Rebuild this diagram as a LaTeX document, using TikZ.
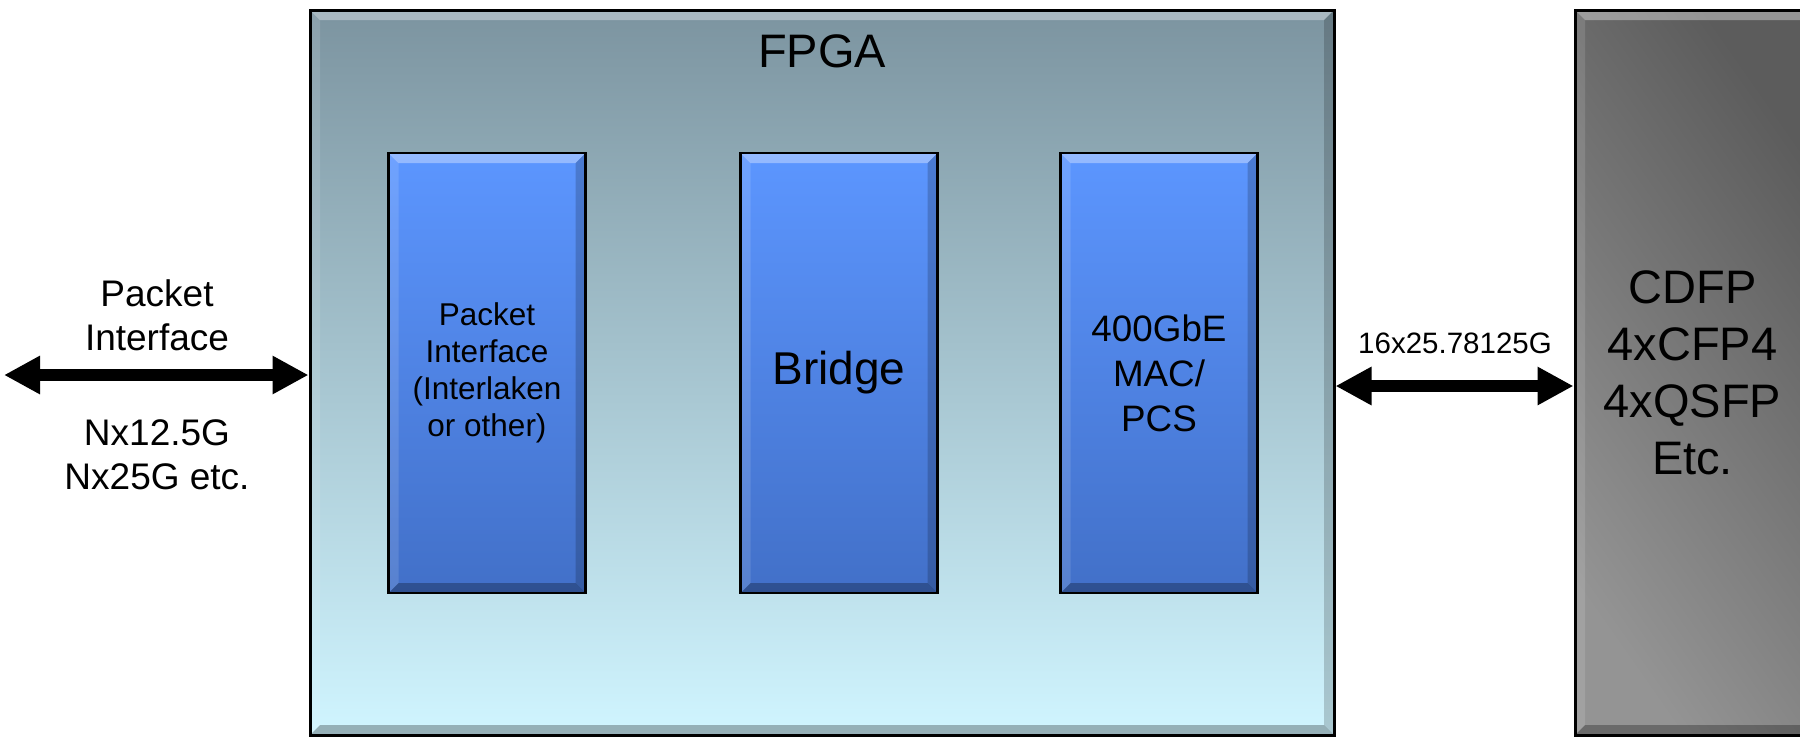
\documentclass[tikz,border=0pt]{standalone}
\usepackage{fontspec}
\setmainfont{Liberation Sans}
\usetikzlibrary{arrows.meta}
\definecolor{fpgatop}{RGB}{124,148,160}
\definecolor{fpgabot}{RGB}{208,245,255}
\definecolor{blktop}{RGB}{92,150,255}
\definecolor{blkbot}{RGB}{66,112,200}
\definecolor{graydark}{RGB}{92,92,92}
\definecolor{graylight}{RGB}{148,148,148}
\tikzset{
  bevel/.style={path picture={
    \fill[white,opacity=0.35] (path picture bounding box.north west) -- (path picture bounding box.north east)
      -- ([shift={(-#1,-#1)}]path picture bounding box.north east) -- ([shift={(#1,-#1)}]path picture bounding box.north west) -- cycle;
    \fill[black,opacity=0.28] (path picture bounding box.south west) -- (path picture bounding box.south east)
      -- ([shift={(-#1,#1)}]path picture bounding box.south east) -- ([shift={(#1,#1)}]path picture bounding box.south west) -- cycle;
    \fill[white,opacity=0.12] (path picture bounding box.north west) -- ([shift={(#1,-#1)}]path picture bounding box.north west)
      -- ([shift={(#1,#1)}]path picture bounding box.south west) -- (path picture bounding box.south west) -- cycle;
    \fill[black,opacity=0.18] (path picture bounding box.north east) -- ([shift={(-#1,-#1)}]path picture bounding box.north east)
      -- ([shift={(-#1,#1)}]path picture bounding box.south east) -- (path picture bounding box.south east) -- cycle;
  }},
  fpgabox/.style={draw=black, line width=1.5pt, top color=fpgatop, bottom color=fpgabot,
    minimum width=512pt, minimum height=362.5pt, inner sep=0pt, bevel=5pt},
  blockbox/.style={draw=black, line width=1.2pt, top color=blktop, bottom color=blkbot,
    minimum width=98.5pt, minimum height=220pt, inner sep=0pt, align=center, bevel=5pt},
  portbox/.style={draw=black, line width=1.5pt, top color=graydark, bottom color=graylight, shading angle=-55,
    minimum width=117.5pt, minimum height=362.5pt, inner sep=0pt, align=center, bevel=5pt},
  bus/.style={line width=6pt, {Triangle[length=18pt,width=18pt]}-{Triangle[length=18pt,width=18pt]}},
  sidelbl/.style={inner sep=0pt, align=center, font=\fontsize{18.5}{22}\selectfont},
}
\begin{document}
\begin{tikzpicture}[x=0.5pt,y=-0.5pt]
\useasboundingbox (0,0) rectangle (1800,736);
\fill[white] (0,0) rectangle (1800,736);
\begin{scope}
\clip (0,0) rectangle (1800,736);
\node[fpgabox] (fpga) at (822,372.5) {};
\node[anchor=base, inner sep=0pt, font=\fontsize{23.5}{28}\selectfont] (fpgalbl) at (822,67) {FPGA};
\node[blockbox, font=\fontsize{15.75}{18.5}\selectfont] (pif) at (487,373) {Packet\\Interface\\(Interlaken\\or other)};
\node[blockbox, font=\fontsize{23}{27}\selectfont] (bridge) at (839,373) {Bridge};
\node[blockbox, font=\fontsize{18.4}{22.5}\selectfont] (mac) at (1159,373) {400GbE\\MAC/\\PCS};
\node[portbox, font=\fontsize{23.5}{28.5}\selectfont] (cdfp) at (1692.5,372.5) {CDFP\\4xCFP4\\4xQSFP\\Etc.};
\coordinate (lend) at (4,375);
\draw[bus] (lend) -- (lend -| fpga.west);
\node[sidelbl, anchor=south] (pktlbl) at (157,351) {Packet\\Interface};
\node[sidelbl, anchor=south] (ratelbl) at (157,490) {Nx12.5G\\Nx25G etc.};
\draw[bus] ([yshift=-6.75pt]fpga.east) -- ([yshift=-6.75pt]cdfp.west);
\node[anchor=base, inner sep=0pt, font=\fontsize{14.75}{18}\selectfont] (serlbl) at (1455,353) {16x25.78125G};
\end{scope}
\end{tikzpicture}
\end{document}
